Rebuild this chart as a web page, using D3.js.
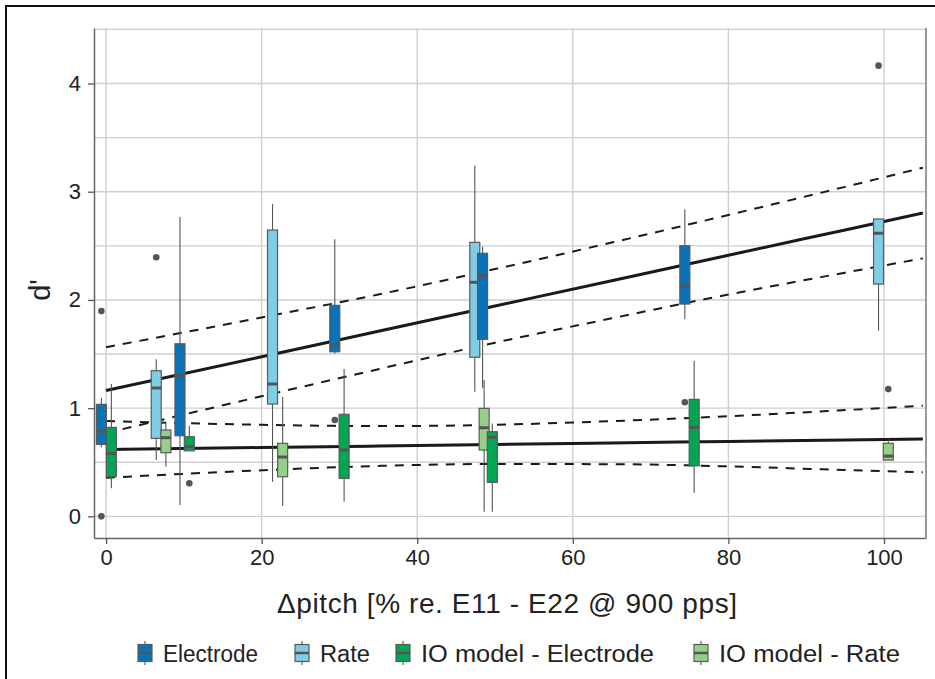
<!DOCTYPE html>
<html><head><meta charset="utf-8">
<script src="https://cdn.jsdelivr.net/npm/d3@7"></script>
<style>body{margin:0;background:#fff} svg{display:block}</style>
</head><body><svg id="c" width="935" height="679"></svg>
<script>
// ---- data ----
const seriesNames  = ["Electrode", "Rate", "IO model - Electrode", "IO model - Rate"];
const seriesColors = ["#0a72b8", "#80cde6", "#00a651", "#95d08b"];

// box statistics per series: x position, lower whisker, Q1, median, Q3, upper whisker
const electrodeX   = [-0.6, 9.5, 29.4, 48.4, 74.4];
const electrodeLo  = [0.638, 0.104, 1.506, 1.183, 1.821];
const electrodeQ1  = [0.665, 0.745, 1.521, 1.636, 1.962];
const electrodeMed = [0.788, 1.303, 1.583, 2.227, 2.126];
const electrodeQ3  = [1.035, 1.595, 1.950, 2.431, 2.501];
const electrodeHi  = [1.096, 2.766, 2.560, 2.492, 2.837];
const electrodeOut = [[-0.6, 1.897], [-0.6, 0.0], [29.4, 0.89], [74.4, 1.054]];

const rateX   = [6.45, 21.4, 47.4, 99.3];
const rateLo  = [0.520, 0.32, 1.152, 1.715];
const rateQ1  = [0.721, 1.038, 1.470, 2.147];
const rateMed = [1.186, 1.223, 2.163, 2.616];
const rateQ3  = [1.346, 2.646, 2.532, 2.748];
const rateHi  = [1.451, 2.886, 3.240, 2.748];
const rateOut = [[6.45, 2.394], [99.3, 4.165]];

const ioElecX   = [0.68, 10.7, 30.6, 49.65, 75.6];
const ioElecLo  = [0.259, 0.606, 0.135, 0.043, 0.218];
const ioElecQ1  = [0.366, 0.606, 0.351, 0.314, 0.468];
const ioElecMed = [0.582, 0.643, 0.613, 0.730, 0.823];
const ioElecQ3  = [0.822, 0.736, 0.943, 0.782, 1.081];
const ioElecHi  = [1.223, 0.837, 1.361, 0.859, 1.438];
const ioElecOut = [[10.7, 0.305]];

const ioRateX   = [7.69, 22.7, 48.6, 100.55];
const ioRateLo  = [0.458, 0.095, 0.043, 0.520];
const ioRateQ1  = [0.588, 0.366, 0.613, 0.520];
const ioRateMed = [0.727, 0.548, 0.819, 0.557];
const ioRateQ3  = [0.798, 0.675, 0.998, 0.675];
const ioRateHi  = [0.874, 1.105, 1.260, 0.712];
const ioRateOut = [[100.55, 1.176]];

// regression fits and confidence bands
const fitX        = [0, 20, 35, 50, 65, 80, 95, 105];
const behavFit    = [1.163, 1.475, 1.710, 1.944, 2.178, 2.413, 2.647, 2.803];
const behavUpper  = [1.563, 1.838, 2.050, 2.285, 2.530, 2.785, 3.045, 3.222];
const behavLower  = [0.770, 1.110, 1.360, 1.605, 1.830, 2.050, 2.252, 2.384];
const modelFit    = [0.618, 0.636, 0.650, 0.664, 0.678, 0.692, 0.705, 0.715];
const modelUpper  = [0.881, 0.846, 0.834, 0.846, 0.880, 0.925, 0.982, 1.022];
const modelLower  = [0.356, 0.426, 0.466, 0.484, 0.482, 0.462, 0.428, 0.407];

const xTicks = [0, 20, 40, 60, 80, 100];
const yTicks = [0, 1, 2, 3, 4];
const yGrid  = [0, 0.5, 1, 1.5, 2, 2.5, 3, 3.5, 4, 4.5];
const xLabel = "\u0394pitch [% re. E11 - E22 @ 900 pps]";
const yLabel = "d'";

// ---- build ----
function mk(xs, lo, q1, med, q3, hi, s) {
  return xs.map((x, i) => ({x, lo: lo[i], q1: q1[i], med: med[i], q3: q3[i], hi: hi[i], s}));
}
const boxes = [].concat(
  mk(electrodeX, electrodeLo, electrodeQ1, electrodeMed, electrodeQ3, electrodeHi, 0),
  mk(rateX, rateLo, rateQ1, rateMed, rateQ3, rateHi, 1),
  mk(ioElecX, ioElecLo, ioElecQ1, ioElecMed, ioElecQ3, ioElecHi, 2),
  mk(ioRateX, ioRateLo, ioRateQ1, ioRateMed, ioRateQ3, ioRateHi, 3)
).sort((a, b) => a.x - b.x);
const outliers = [].concat(electrodeOut, rateOut, ioElecOut, ioRateOut);

const svg = d3.select("#c");
const font = "'Liberation Sans', Arial, Helvetica, sans-serif";
const L = 94, R = 926, T = 28, B = 538;
const x = d3.scaleLinear().domain([-1.55, 105.4]).range([L, R]);
const y = d3.scaleLinear().domain([-0.2, 4.513]).range([B, T]);

// outer frame
svg.append("rect").attr("x", 6).attr("y", 6).attr("width", 1000).attr("height", 1000)
  .attr("fill", "none").attr("stroke", "#111").attr("stroke-width", 2);

// grid
const g = svg.append("g");
g.selectAll("line.hy").data(yGrid).join("line")
  .attr("x1", L).attr("x2", R).attr("y1", d => y(d)).attr("y2", d => y(d))
  .attr("stroke", "#cfcfcf").attr("stroke-width", 1.4);
g.selectAll("line.vx").data(xTicks).join("line")
  .attr("y1", T).attr("y2", B).attr("x1", d => x(d)).attr("x2", d => x(d))
  .attr("stroke", "#cfcfcf").attr("stroke-width", 1.4);

// axes
const ax = svg.append("g").attr("transform", `translate(0,${B})`)
  .call(d3.axisBottom(x).tickValues(xTicks).tickFormat(d3.format("d")).tickSize(6).tickSizeOuter(0).tickPadding(5));
const ay = svg.append("g").attr("transform", `translate(${L},0)`)
  .call(d3.axisLeft(y).tickValues(yTicks).tickFormat(d3.format("d")).tickSize(6).tickSizeOuter(0).tickPadding(7));
[ax, ay].forEach(a => {
  a.select(".domain").attr("stroke", "#666").attr("stroke-width", 1.5);
  a.selectAll(".tick line").attr("stroke", "#555").attr("stroke-width", 1.3);
  a.selectAll(".tick text").attr("fill", "#222").style("font-family", font).style("font-size", "22px");
});
svg.append("line").attr("x1", R).attr("x2", R).attr("y1", T).attr("y2", B)
  .attr("stroke", "#777").attr("stroke-width", 1.5);

// regression lines
const line = d3.line().x((d, i) => x(fitX[i])).y(d => y(d)).curve(d3.curveMonotoneX);
[[behavUpper, true], [behavLower, true], [modelUpper, true], [modelLower, true],
 [behavFit, false], [modelFit, false]].forEach(([arr, dashed]) => {
  svg.append("path").attr("d", line(arr)).attr("fill", "none")
    .attr("stroke", "#1a1a1a").attr("stroke-width", dashed ? 2 : 3)
    .attr("stroke-dasharray", dashed ? "9,8" : null);
});

// boxes
const bw = 10;
const bg = svg.append("g");
boxes.forEach(d => {
  const cx = x(d.x);
  const gg = bg.append("g");
  gg.append("line").attr("x1", cx).attr("x2", cx).attr("y1", y(d.hi)).attr("y2", y(d.q3))
    .attr("stroke", "#555").attr("stroke-width", 1.1);
  gg.append("line").attr("x1", cx).attr("x2", cx).attr("y1", y(d.q1)).attr("y2", y(d.lo))
    .attr("stroke", "#555").attr("stroke-width", 1.1);
  gg.append("rect").attr("x", cx - bw / 2).attr("width", bw)
    .attr("y", y(d.q3)).attr("height", y(d.q1) - y(d.q3))
    .attr("fill", seriesColors[d.s]).attr("stroke", "#5a5a5a").attr("stroke-width", 1.2);
  gg.append("line").attr("x1", cx - bw / 2).attr("x2", cx + bw / 2)
    .attr("y1", y(d.med)).attr("y2", y(d.med))
    .attr("stroke", "#555").attr("stroke-width", 3);
});
svg.selectAll("circle.o").data(outliers).join("circle")
  .attr("cx", d => x(d[0])).attr("cy", d => y(d[1])).attr("r", 3.3).attr("fill", "#555");

// axis titles
svg.append("text").attr("x", 507).attr("y", 613).attr("text-anchor", "middle")
  .attr("textLength", 460)
  .style("font-family", font).style("font-size", "28px").attr("fill", "#222").text(xLabel);
svg.append("text").attr("transform", "translate(50,290) rotate(-90)").attr("text-anchor", "middle")
  .style("font-family", font).style("font-size", "29px").attr("fill", "#222").text(yLabel);

// legend
const legX = [138, 295, 396, 694];
const legW = [95, 50, 233, 181];
seriesNames.forEach((n, i) => {
  const kx = legX[i], cx = kx + 7;
  svg.append("line").attr("x1", cx).attr("x2", cx).attr("y1", 641).attr("y2", 665)
    .attr("stroke", "#555").attr("stroke-width", 1.1);
  svg.append("rect").attr("x", kx).attr("y", 644.5).attr("width", 14).attr("height", 17)
    .attr("fill", seriesColors[i]).attr("stroke", "#5a5a5a").attr("stroke-width", 1.2);
  svg.append("line").attr("x1", kx).attr("x2", kx + 14).attr("y1", 653).attr("y2", 653)
    .attr("stroke", "#555").attr("stroke-width", 2.5);
  svg.append("text").attr("x", kx + 25).attr("y", 661.5).attr("textLength", legW[i])
    .attr("lengthAdjust", "spacingAndGlyphs")
    .style("font-family", font)
    .style("font-size", "23.5px").attr("fill", "#222").text(n);
});
</script></body></html>
